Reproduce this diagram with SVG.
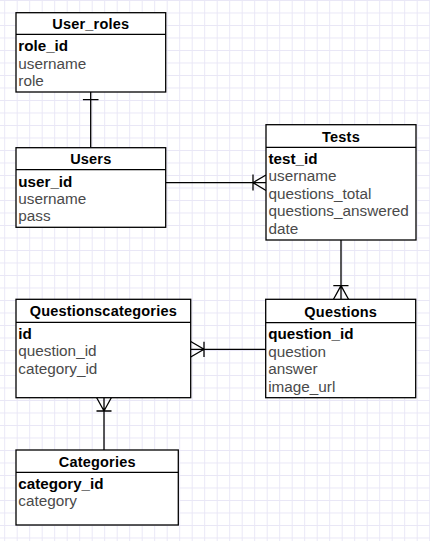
<svg xmlns="http://www.w3.org/2000/svg" width="430" height="541" viewBox="0 0 430 541">
<defs>
<pattern id="grid" patternUnits="userSpaceOnUse" x="4.2" y="0" width="12.5" height="12.5">
<path d="M0.5 0 V12.5 M0 0.5 H12.5" stroke="#e9e7f6" stroke-width="1" fill="none"/>
</pattern>
</defs>
<style>
.box{fill:#fff;stroke:#000;stroke-width:1.3}
.hdr{stroke:#000;stroke-width:1.3}
.title{font-family:"Liberation Sans",Arial,sans-serif;font-size:14.5px;font-weight:bold;fill:#000;text-anchor:middle;letter-spacing:0.2px}
.key{font-family:"Liberation Sans",Arial,sans-serif;font-size:15.2px;font-weight:bold;fill:#000}
.fld{font-family:"Liberation Sans",Arial,sans-serif;font-size:15.3px;fill:#4a4a4a}
.conn{stroke:#000;stroke-width:1.3;fill:none}
</style>
<rect width="430" height="541" fill="#fff"/>
<rect width="430" height="541" fill="url(#grid)"/>

<g id="connectors">
<path class="conn" d="M90.7 92 V147.7 M82.9 99.7 H98.5"/>
<path class="conn" d="M165.7 182.7 H266 M253 174.5 V190.5 M266 175 L253 182.7 L266 190.5"/>
<path class="conn" d="M341 240 V299.3 M333.3 285.7 H348.5 M333.5 299.3 L341 285.7 L348.5 299.3"/>
<path class="conn" d="M190.7 349.3 H265.7 M204 341.7 V357 M190.7 341.5 L204 349.3 L190.7 357"/>
<path class="conn" d="M104 397.7 V450 M96.5 411 H111.5 M96.7 397.7 L104 411 L111.3 397.7"/>
</g>

<g id="User_roles">
<rect class="box" x="16" y="12.7" width="149.7" height="79.3"/>
<line class="hdr" x1="16" y1="34.3" x2="165.7" y2="34.3"/>
<text class="title" x="90.8" y="29.2">User_roles</text>
<text class="key" x="18.3" y="51.2">role_id</text>
<text class="fld" x="18.3" y="68.6">username</text>
<text class="fld" x="18.3" y="86">role</text>
</g>

<g id="Users">
<rect class="box" x="16" y="147.7" width="149.7" height="79.6"/>
<line class="hdr" x1="16" y1="169.7" x2="165.7" y2="169.7"/>
<text class="title" x="90.8" y="164.2">Users</text>
<text class="key" x="18.3" y="186.5">user_id</text>
<text class="fld" x="18.3" y="203.9">username</text>
<text class="fld" x="18.3" y="221.3">pass</text>
</g>

<g id="Tests">
<rect class="box" x="266" y="124.7" width="150" height="115.3"/>
<line class="hdr" x1="266" y1="147.3" x2="416" y2="147.3"/>
<text class="title" x="341" y="141.7">Tests</text>
<text class="key" x="268.5" y="164">test_id</text>
<text class="fld" x="268.5" y="181.4">username</text>
<text class="fld" x="268.5" y="198.8">questions_total</text>
<text class="fld" x="268.5" y="216.2">questions_answered</text>
<text class="fld" x="268.5" y="233.6">date</text>
</g>

<g id="Questions">
<rect class="box" x="265.7" y="299.3" width="150" height="98.4"/>
<line class="hdr" x1="265.7" y1="322.7" x2="415.7" y2="322.7"/>
<text class="title" x="340.7" y="316.5">Questions</text>
<text class="key" x="268.2" y="339.4">question_id</text>
<text class="fld" x="268.2" y="356.8">question</text>
<text class="fld" x="268.2" y="374.2">answer</text>
<text class="fld" x="268.2" y="391.6">image_url</text>
</g>

<g id="Questionscategories">
<rect class="box" x="16" y="299.3" width="174.7" height="98.4"/>
<line class="hdr" x1="16" y1="322.3" x2="190.7" y2="322.3"/>
<text class="title" x="103.3" y="316.3">Questionscategories</text>
<text class="key" x="18.3" y="339">id</text>
<text class="fld" x="18.3" y="356.4">question_id</text>
<text class="fld" x="18.3" y="373.8">category_id</text>
</g>

<g id="Categories">
<rect class="box" x="16" y="450" width="162.3" height="75"/>
<line class="hdr" x1="16" y1="472.3" x2="178.3" y2="472.3"/>
<text class="title" x="97.2" y="466.6">Categories</text>
<text class="key" x="18.3" y="489">category_id</text>
<text class="fld" x="18.3" y="506.4">category</text>
</g>
</svg>
